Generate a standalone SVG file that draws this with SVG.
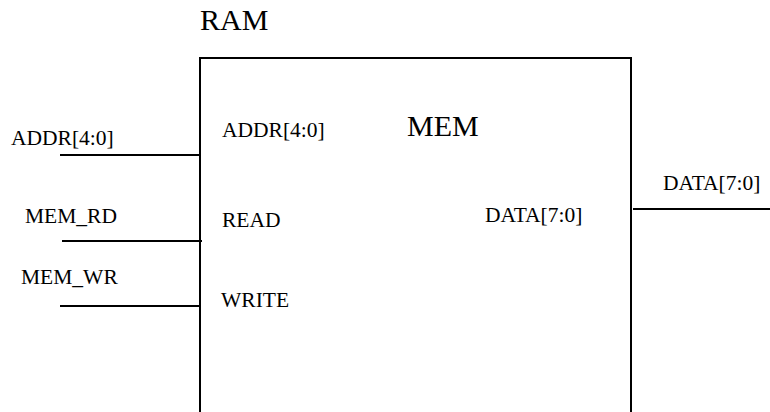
<svg xmlns="http://www.w3.org/2000/svg" width="770" height="412" viewBox="0 0 770 412">
<style>
text{font-family:"Liberation Serif","Times New Roman",serif;fill:#000}
.s{font-size:21.5px}
.l{font-size:30px}
.w{stroke:#000;stroke-width:2;fill:none}
</style>
<rect width="770" height="412" fill="#fff"/>
<g id="ram">
<text class="l" x="200" y="30">RAM</text>
<path class="w" d="M200,413 V58 H631 V413"/>
<text class="l" x="407" y="136">MEM</text>
<text class="s" x="222" y="137">ADDR[4:0]</text>
<text class="s" x="222" y="227">READ</text>
<text class="s" x="221" y="307">WRITE</text>
<text class="s" x="485" y="222">DATA[7:0]</text>
</g>
<g id="connectors">
<line class="w" x1="60" y1="155" x2="200" y2="155"/>
<line class="w" x1="62" y1="241" x2="202" y2="241"/>
<line class="w" x1="60" y1="306" x2="200" y2="306"/>
<line class="w" x1="633" y1="209" x2="770" y2="209"/>
</g>
<g id="labels">
<text class="s" x="11" y="145">ADDR[4:0]</text>
<text class="s" x="25" y="223">MEM_RD</text>
<text class="s" x="21" y="284">MEM_WR</text>
<text class="s" x="663" y="190">DATA[7:0]</text>
</g>
</svg>
